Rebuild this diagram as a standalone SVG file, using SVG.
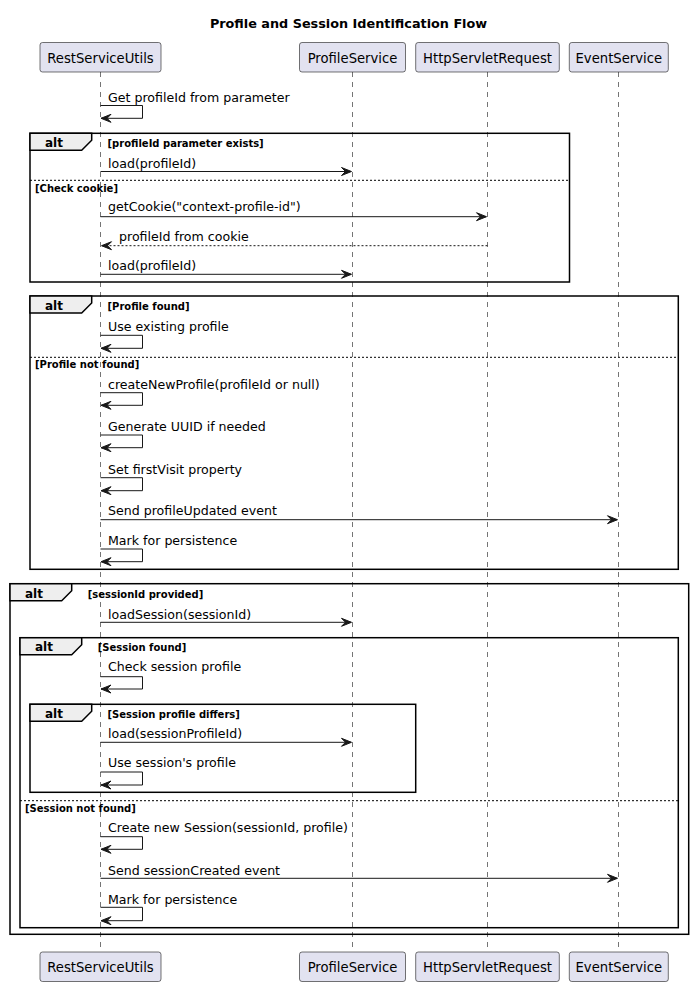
<svg xmlns="http://www.w3.org/2000/svg" width="693" height="987" viewBox="0 0 693 987">
<style>
.title{font-family:"DejaVu Sans",sans-serif;font-size:12.8px;font-weight:bold;fill:#000}
.pbox{fill:#E2E2F0;stroke:#181818;stroke-width:0.6}
.ptext{font-family:"DejaVu Sans",sans-serif;font-size:13.2px;fill:#000}
.life{stroke:#181818;stroke-width:0.6;stroke-dasharray:5,5;fill:none}
.msg{font-family:"DejaVu Sans",sans-serif;font-size:12.6px;fill:#000}
.line{stroke:#181818;stroke-width:1;fill:none}
.dash{stroke:#181818;stroke-width:1;stroke-dasharray:2,2;fill:none}
.head{fill:#181818;stroke:#181818;stroke-width:1}
.frame{fill:none;stroke:#000;stroke-width:1.5}
.tab{fill:#EEEEEE;stroke:#000;stroke-width:1.5}
.sep{stroke:#000;stroke-width:1;stroke-dasharray:2,2}
.alt{font-family:"DejaVu Sans",sans-serif;font-size:12px;font-weight:bold;fill:#000}
.guard{font-family:"DejaVu Sans",sans-serif;font-size:10px;font-weight:bold;fill:#000}
</style>
<rect width="693" height="987" fill="#FFFFFF"/>
<text class="title" x="348.5" y="28" text-anchor="middle">Profile and Session Identification Flow</text>

<g id="lifelines">
<line class="life" x1="100.5" y1="72" x2="100.5" y2="952"/>
<line class="life" x1="352.5" y1="72" x2="352.5" y2="952"/>
<line class="life" x1="487.5" y1="72" x2="487.5" y2="952"/>
<line class="life" x1="618.5" y1="72" x2="618.5" y2="952"/>
</g>

<g id="RestServiceUtils">
<rect class="pbox" x="40" y="42.5" width="121" height="29.5" rx="2.5"/>
<text class="ptext" x="100.5" y="62.5" text-anchor="middle">RestServiceUtils</text>
<rect class="pbox" x="40" y="952" width="121" height="29.5" rx="2.5"/>
<text class="ptext" x="100.5" y="972" text-anchor="middle">RestServiceUtils</text>
</g>
<g id="ProfileService">
<rect class="pbox" x="299.5" y="42.5" width="106" height="29.5" rx="2.5"/>
<text class="ptext" x="352.5" y="62.5" text-anchor="middle">ProfileService</text>
<rect class="pbox" x="299.5" y="952" width="106" height="29.5" rx="2.5"/>
<text class="ptext" x="352.5" y="972" text-anchor="middle">ProfileService</text>
</g>
<g id="HttpServletRequest">
<rect class="pbox" x="415.7" y="42.5" width="143.6" height="29.5" rx="2.5"/>
<text class="ptext" x="487.5" y="62.5" text-anchor="middle">HttpServletRequest</text>
<rect class="pbox" x="415.7" y="952" width="143.6" height="29.5" rx="2.5"/>
<text class="ptext" x="487.5" y="972" text-anchor="middle">HttpServletRequest</text>
</g>
<g id="EventService">
<rect class="pbox" x="569.3" y="42.5" width="99" height="29.5" rx="2.5"/>
<text class="ptext" x="618.8" y="62.5" text-anchor="middle">EventService</text>
<rect class="pbox" x="569.3" y="952" width="99" height="29.5" rx="2.5"/>
<text class="ptext" x="618.8" y="972" text-anchor="middle">EventService</text>
</g>

<g id="fragments">
<!-- alt 1 -->
<rect class="frame" x="30" y="133.3" width="539.5" height="148.7"/>
<polygon class="tab" points="30,133.3 91.7,133.3 91.7,140.3 81.7,150.3 30,150.3"/>
<text class="alt" x="45" y="146.5">alt</text>
<text class="guard" x="107.5" y="146.5">[profileId parameter exists]</text>
<line class="sep" x1="30" y1="180.3" x2="569.5" y2="180.3"/>
<text class="guard" x="35" y="192">[Check cookie]</text>
<!-- alt 2 -->
<rect class="frame" x="30" y="296" width="648.3" height="273.3"/>
<polygon class="tab" points="30,296 91.7,296 91.7,303 81.7,313 30,313"/>
<text class="alt" x="45" y="309.5">alt</text>
<text class="guard" x="107.5" y="309.5">[Profile found]</text>
<line class="sep" x1="30" y1="357.3" x2="678.3" y2="357.3"/>
<text class="guard" x="35" y="368">[Profile not found]</text>
<!-- alt 3 -->
<rect class="frame" x="10" y="583.7" width="678.7" height="350.6"/>
<polygon class="tab" points="10,583.7 71.7,583.7 71.7,590.7 61.7,600.7 10,600.7"/>
<text class="alt" x="25" y="597.5">alt</text>
<text class="guard" x="87.7" y="597.5">[sessionId provided]</text>
<!-- alt 4 -->
<rect class="frame" x="20" y="637.7" width="658.3" height="290"/>
<polygon class="tab" points="20,637.7 81.7,637.7 81.7,644.7 71.7,654.7 20,654.7"/>
<text class="alt" x="35" y="651">alt</text>
<text class="guard" x="97.7" y="651">[Session found]</text>
<line class="sep" x1="20" y1="800.7" x2="678.3" y2="800.7"/>
<text class="guard" x="25" y="812">[Session not found]</text>
<!-- alt 5 -->
<rect class="frame" x="30" y="704.3" width="385.7" height="88"/>
<polygon class="tab" points="30,704.3 91.7,704.3 91.7,711.3 81.7,721.3 30,721.3"/>
<text class="alt" x="45" y="717.5">alt</text>
<text class="guard" x="107.5" y="717.5">[Session profile differs]</text>
</g>

<g id="connectors">
<!-- Get profileId from parameter -->
<text class="msg" x="108" y="101.5">Get profileId from parameter</text>
<polyline class="line" points="100.5,105.5 142.5,105.5 142.5,118.3 101,118.3"/>
<polygon class="head" points="101,118.3 111,114.3 107,118.3 111,122.3"/>
<!-- load(profileId) -->
<text class="msg" x="108" y="168">load(profileId)</text>
<line class="line" x1="100.5" y1="171.5" x2="351" y2="171.5"/>
<polygon class="head" points="351.5,171.5 341.5,167.5 345.5,171.5 341.5,175.5"/>
<!-- getCookie -->
<text class="msg" x="108" y="211.2">getCookie("context-profile-id")</text>
<line class="line" x1="100.5" y1="216.7" x2="486" y2="216.7"/>
<polygon class="head" points="486.5,216.7 476.5,212.7 480.5,216.7 476.5,220.7"/>
<!-- profileId from cookie -->
<text class="msg" x="119" y="241">profileId from cookie</text>
<line class="dash" x1="487.5" y1="245.7" x2="102" y2="245.7"/>
<polygon class="head" points="101.5,245.7 111.5,241.7 107.5,245.7 111.5,249.7"/>
<!-- load(profileId) -->
<text class="msg" x="108" y="269.5">load(profileId)</text>
<line class="line" x1="100.5" y1="274.3" x2="351" y2="274.3"/>
<polygon class="head" points="351.5,274.3 341.5,270.3 345.5,274.3 341.5,278.3"/>
<!-- Use existing profile -->
<text class="msg" x="108" y="331">Use existing profile</text>
<polyline class="line" points="100.5,335.3 142.5,335.3 142.5,348.3 101,348.3"/>
<polygon class="head" points="101,348.3 111,344.3 107,348.3 111,352.3"/>
<!-- createNewProfile -->
<text class="msg" x="108" y="389">createNewProfile(profileId or null)</text>
<polyline class="line" points="100.5,392.7 142.5,392.7 142.5,405.3 101,405.3"/>
<polygon class="head" points="101,405.3 111,401.3 107,405.3 111,409.3"/>
<!-- Generate UUID -->
<text class="msg" x="108" y="430.5">Generate UUID if needed</text>
<polyline class="line" points="100.5,435 142.5,435 142.5,447.7 101,447.7"/>
<polygon class="head" points="101,447.7 111,443.7 107,447.7 111,451.7"/>
<!-- Set firstVisit -->
<text class="msg" x="108" y="473.5">Set firstVisit property</text>
<polyline class="line" points="100.5,477.7 142.5,477.7 142.5,490.7 101,490.7"/>
<polygon class="head" points="101,490.7 111,486.7 107,490.7 111,494.7"/>
<!-- Send profileUpdated -->
<text class="msg" x="108" y="515">Send profileUpdated event</text>
<line class="line" x1="100.5" y1="519.7" x2="617" y2="519.7"/>
<polygon class="head" points="617.5,519.7 607.5,515.7 611.5,519.7 607.5,523.7"/>
<!-- Mark for persistence -->
<text class="msg" x="108" y="544.5">Mark for persistence</text>
<polyline class="line" points="100.5,549 142.5,549 142.5,561.7 101,561.7"/>
<polygon class="head" points="101,561.7 111,557.7 107,561.7 111,565.7"/>
<!-- loadSession -->
<text class="msg" x="108" y="619">loadSession(sessionId)</text>
<line class="line" x1="100.5" y1="622.3" x2="351" y2="622.3"/>
<polygon class="head" points="351.5,622.3 341.5,618.3 345.5,622.3 341.5,626.3"/>
<!-- Check session profile -->
<text class="msg" x="108" y="671">Check session profile</text>
<polyline class="line" points="100.5,676.7 142.5,676.7 142.5,689 101,689"/>
<polygon class="head" points="101,689 111,685 107,689 111,693"/>
<!-- load(sessionProfileId) -->
<text class="msg" x="108" y="738">load(sessionProfileId)</text>
<line class="line" x1="100.5" y1="742.3" x2="351" y2="742.3"/>
<polygon class="head" points="351.5,742.3 341.5,738.3 345.5,742.3 341.5,746.3"/>
<!-- Use session's profile -->
<text class="msg" x="108" y="767">Use session's profile</text>
<polyline class="line" points="100.5,772 142.5,772 142.5,785 101,785"/>
<polygon class="head" points="101,785 111,781 107,785 111,789"/>
<!-- Create new Session -->
<text class="msg" x="108" y="832">Create new Session(sessionId, profile)</text>
<polyline class="line" points="100.5,836.7 142.5,836.7 142.5,849.3 101,849.3"/>
<polygon class="head" points="101,849.3 111,845.3 107,849.3 111,853.3"/>
<!-- Send sessionCreated -->
<text class="msg" x="108" y="874.5">Send sessionCreated event</text>
<line class="line" x1="100.5" y1="878.3" x2="617" y2="878.3"/>
<polygon class="head" points="617.5,878.3 607.5,874.3 611.5,878.3 607.5,882.3"/>
<!-- Mark for persistence -->
<text class="msg" x="108" y="903.5">Mark for persistence</text>
<polyline class="line" points="100.5,907.3 142.5,907.3 142.5,920.7 101,920.7"/>
<polygon class="head" points="101,920.7 111,916.7 107,920.7 111,924.7"/>
</g>
</svg>
